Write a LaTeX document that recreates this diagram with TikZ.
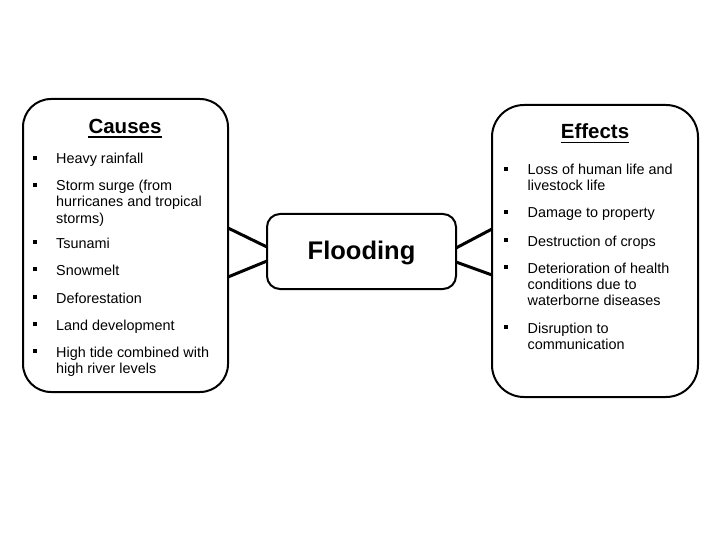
\documentclass[tikz,border=0pt]{standalone}
\usepackage{fontspec}
\setmainfont{Liberation Sans}
\begin{document}
\begin{tikzpicture}[x=1pt,y=-1pt,
  box/.style={draw=black,line width=2pt,rounded corners=#1},
  conn/.style={draw=black,line width=3pt},
  itm/.style={anchor=base west,inner sep=0pt,font=\fontsize{14.4}{16}\selectfont},
  ttl/.style={anchor=base,inner sep=0pt,font=\fontsize{20.5}{24}\selectfont\bfseries},
  bul/.style={fill=black,minimum size=3.8pt,inner sep=0pt}]
\useasboundingbox (0,0) rectangle (720,540);
\fill[white] (0,0) rectangle (720,540);
% boxes
\draw[box=28pt] (23,99) rectangle (228,392);
\draw[box=32pt] (492,105) rectangle (698,397);
\draw[box=13pt] (267,214) rectangle (456,289);
\node[inner sep=0pt,font=\fontsize{25.5}{28}\selectfont\bfseries,anchor=base] (fl) at (361.5,259) {Flooding};
% connectors
\coordinate (la) at (228,228); \coordinate (lb) at (267,247);
\coordinate (lc) at (228,277); \coordinate (ld) at (267,261);
\coordinate (ra) at (456,248); \coordinate (rb) at (492,229);
\coordinate (rc) at (456,262); \coordinate (rd) at (492,275);
\draw[conn] (la) -- (lb);
\draw[conn] (lc) -- (ld);
\draw[conn] (ra) -- (rb);
\draw[conn] (rc) -- (rd);
% causes
\node[ttl] (ct) at (125,134) {Causes};
\draw[line width=1.6pt] ([yshift=-3.2pt]ct.base west) -- ([yshift=-3.2pt]ct.base east);
\foreach \y/\t [count=\i] in {164/Heavy rainfall,191/Storm surge (from,207/hurricanes and tropical,223/storms),248/Tsunami,275/Snowmelt,303/Deforestation,330/Land development,357/High tide combined with,373/high river levels}{
  \node[itm] (c\i) at (56,\y) {\t};
}
\foreach \y [count=\i] in {164,191,248,275,303,330,357}{
  \node[bul] (cb\i) at (35,\y-6) {};
}
% effects
\node[ttl] (et) at (595,139) {Effects};
\draw[line width=1.6pt] ([yshift=-3.5pt]et.base west) -- ([yshift=-3.5pt]et.base east);
\foreach \y/\t [count=\i] in {175/Loss of human life and,191/livestock life,218/Damage to property,246/Destruction of crops,273/Deterioration of health,289/conditions due to,305/waterborne diseases,333/Disruption to,349/communication}{
  \node[itm] (e\i) at (527.5,\y) {\t};
}
\foreach \y [count=\i] in {175,218,246,273,333}{
  \node[bul] (eb\i) at (506,\y-6) {};
}
\end{tikzpicture}
\end{document}
